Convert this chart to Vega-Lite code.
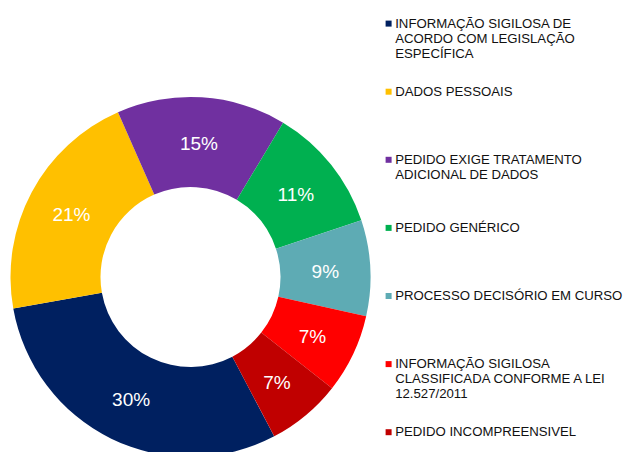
{
  "$schema": "https://vega.github.io/schema/vega-lite/v6.json",
  "width": 381,
  "height": 554,
  "padding": 0,
  "autosize": {"type": "pad"},
  "background": "white",
  "config": {"view": {"stroke": null}, "font": "Liberation Sans"},
  "data": {
    "values": [
      {"cat": "INFORMAÇÃO SIGILOSA DE|ACORDO COM LEGISLAÇÃO|ESPECÍFICA", "value": 29.9, "label": "30%", "ord": 1},
      {"cat": "DADOS PESSOAIS||", "value": 21.2, "label": "21%", "ord": 2},
      {"cat": "PEDIDO EXIGE TRATAMENTO|ADICIONAL DE DADOS|", "value": 15.2, "label": "15%", "ord": 3},
      {"cat": "PEDIDO GENÉRICO||", "value": 11.3, "label": "11%", "ord": 4},
      {"cat": "PROCESSO DECISÓRIO EM CURSO||", "value": 8.6, "label": "9%", "ord": 5},
      {"cat": "INFORMAÇÃO SIGILOSA|CLASSIFICADA CONFORME A LEI|12.527/2011", "value": 7.1, "label": "7%", "ord": 6},
      {"cat": "PEDIDO INCOMPREENSIVEL||", "value": 6.7, "label": "7%", "ord": 7}
    ]
  },
  "encoding": {
    "theta": {"field": "value", "type": "quantitative", "stack": true, "scale": {"range": [2.658, 8.941]}},
    "order": {"field": "ord", "type": "quantitative"}
  },
  "layer": [
    {
      "mark": {"type": "arc", "innerRadius": 90, "outerRadius": 180},
      "encoding": {
        "color": {
          "field": "cat",
          "type": "nominal",
          "scale": {
            "domain": [
              "INFORMAÇÃO SIGILOSA DE|ACORDO COM LEGISLAÇÃO|ESPECÍFICA",
              "DADOS PESSOAIS||",
              "PEDIDO EXIGE TRATAMENTO|ADICIONAL DE DADOS|",
              "PEDIDO GENÉRICO||",
              "PROCESSO DECISÓRIO EM CURSO||",
              "INFORMAÇÃO SIGILOSA|CLASSIFICADA CONFORME A LEI|12.527/2011",
              "PEDIDO INCOMPREENSIVEL||"
            ],
            "range": ["#002060", "#FFC000", "#7030A0", "#00B050", "#5EABB4", "#FF0000", "#C00000"]
          },
          "legend": {
            "title": null,
            "orient": "none",
            "legendX": 382,
            "legendY": 17,
            "padding": 0,
            "symbolType": "square",
            "symbolSize": 36,
            "symbolStrokeWidth": 0,
            "labelFont": "Liberation Sans",
            "labelFontSize": 13.2,
            "labelColor": "#111111",
            "labelExpr": "split(datum.label, '|')",
            "labelLimit": 0,
            "labelOffset": 0,
            "labelBaseline": "middle",
            "rowPadding": 23.1
          }
        }
      }
    },
    {
      "mark": {"type": "text", "radius": 135, "fill": "white", "fontSize": 19, "font": "Liberation Sans", "dy": 2},
      "encoding": {"text": {"field": "label"}}
    }
  ]
}
